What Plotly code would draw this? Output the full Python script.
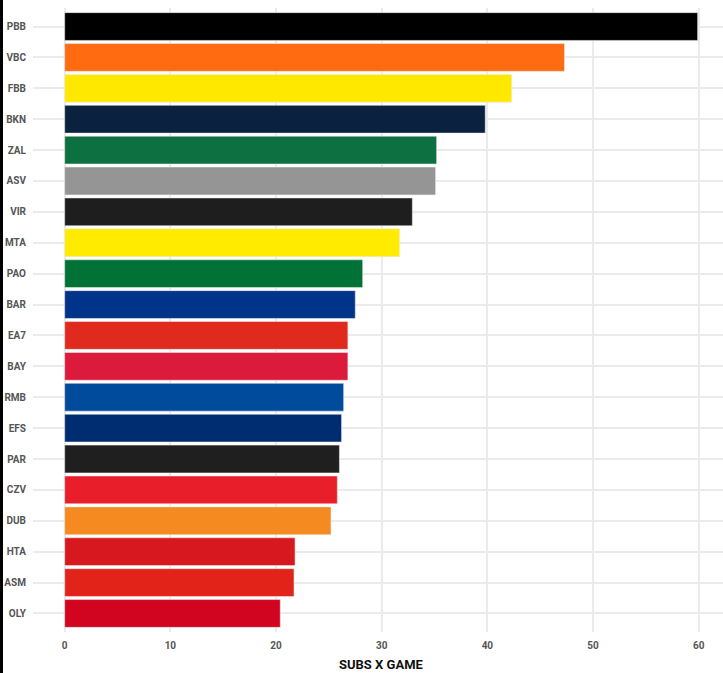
import plotly.graph_objects as go

teams = ["PBB", "VBC", "FBB", "BKN", "ZAL", "ASV", "VIR", "MTA", "PAO", "BAR",
         "EA7", "BAY", "RMB", "EFS", "PAR", "CZV", "DUB", "HTA", "ASM", "OLY"]
subs_per_game = [59.9, 47.3, 42.3, 39.8, 35.2, 35.1, 32.9, 31.7, 28.2, 27.5,
                 26.8, 26.8, 26.4, 26.2, 26.0, 25.8, 25.2, 21.8, 21.7, 20.4]
team_colors = ["#000000", "#FF6B10", "#FFE800", "#0A2240", "#0C7040", "#959595",
               "#1E1E1E", "#FFEB00", "#007236", "#00348A", "#E12A1E", "#DC1A3C",
               "#004B9C", "#002D72", "#1F1F1F", "#E81E2A", "#F58A20", "#D7191F",
               "#E2231A", "#D1051F"]
x_ticks = [0, 10, 20, 30, 40, 50, 60]

FONT = "Roboto, Liberation Sans Narrow, sans-serif"

fig = go.Figure(go.Bar(
    x=subs_per_game, y=teams, orientation="h",
    marker=dict(color=team_colors, line=dict(color="rgba(235,235,235,0.55)", width=1)),
    width=0.9,
))

W, H = 723, 673
ml, mt, mb = 33, 8, 40.5
ph = H - mt - mb

fig.update_layout(
    width=W, height=H,
    margin=dict(l=ml, r=0, t=mt, b=mb, pad=0),
    plot_bgcolor="white", paper_bgcolor="white",
    showlegend=False,
    font=dict(family=FONT, color="#555555", size=10),
    xaxis=dict(range=[-3, 62.3], tickvals=x_ticks, showgrid=True, gridcolor="#EBEBEB",
               gridwidth=1.5, zeroline=False, showline=False, ticks="",
               tickfont=dict(family=FONT, size=10, color="#555555", weight="bold"),
               ticklabelstandoff=6),
    yaxis=dict(categoryorder="array", categoryarray=teams, range=[19.6, -0.6],
               showgrid=True, gridcolor="#EBEBEB", gridwidth=1.5, zeroline=False,
               showline=False, ticks="",
               tickfont=dict(family=FONT, size=10, color="#555555", weight="bold"),
               ticklabelstandoff=6),
    annotations=[dict(text="SUBS X GAME", xref="paper", yref="paper",
                      x=(381 - ml) / (W - ml), y=-(665 - mt - ph) / ph,
                      yanchor="middle", xanchor="center", showarrow=False,
                      font=dict(family=FONT, size=13, color="#111111", weight="bold"))],
    shapes=[dict(type="line", xref="paper", yref="paper",
                 x0=(1.5 - ml) / (W - ml), x1=(1.5 - ml) / (W - ml),
                 y0=-0.2, y1=1.2, line=dict(color="black", width=3))],
)

fig.write_html("out.html",
               config={"displayModeBar": False},
               post_script="document.body.style.margin='0';document.body.style.padding='0';")
